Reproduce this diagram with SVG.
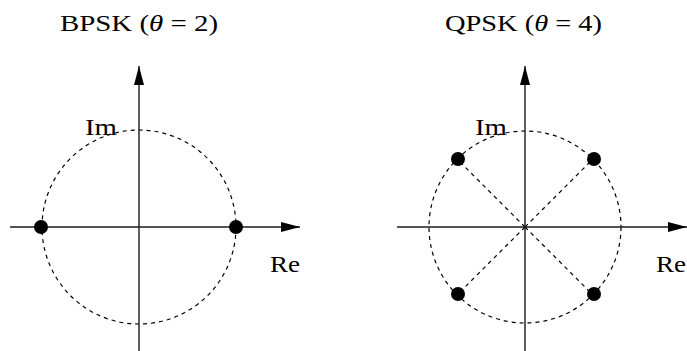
<svg xmlns="http://www.w3.org/2000/svg" width="687" height="351" viewBox="0 0 687 351">
<style>
.axis{stroke:#1a1a1a;stroke-width:1.4;fill:none}
.dash{stroke:#000;stroke-width:1.2;fill:none;stroke-dasharray:4 4}
.dot{fill:#000}
.lbl{font-family:"Liberation Serif","DejaVu Serif",serif;font-size:24px;fill:#000}
.it{font-style:italic}
</style>
<defs>
<marker id="ah" markerUnits="userSpaceOnUse" markerWidth="20" markerHeight="12" refX="19" refY="5" orient="auto">
<path d="M0,0 L19,5 L0,10 Z" fill="#000"/>
</marker>
</defs>
<g id="title-bpsk"><text class="lbl" x="60" y="31" textLength="158" lengthAdjust="spacingAndGlyphs">BPSK  (<tspan class="it">θ</tspan> = 2)</text></g>
<g id="title-qpsk"><text class="lbl" x="445" y="31" textLength="157" lengthAdjust="spacingAndGlyphs">QPSK  (<tspan class="it">θ</tspan> = 4)</text></g>
<g id="connectors">
<circle class="dash" cx="139" cy="227" r="97"/>
<line class="axis" x1="10" y1="227" x2="300" y2="227" marker-end="url(#ah)"/>
<line class="axis" x1="139" y1="352" x2="139" y2="66" marker-end="url(#ah)"/>
<circle class="dash" cx="525" cy="227" r="96"/>
<line class="dash" x1="525" y1="227" x2="457" y2="159"/>
<line class="dash" x1="525" y1="227" x2="593" y2="159"/>
<line class="dash" x1="525" y1="227" x2="457" y2="295"/>
<line class="dash" x1="525" y1="227" x2="593" y2="295"/>
<line class="axis" x1="397" y1="227" x2="687" y2="227" marker-end="url(#ah)"/>
<line class="axis" x1="525" y1="352" x2="525" y2="66" marker-end="url(#ah)"/>
</g>
<g id="bpsk-p0"><circle class="dot" cx="41" cy="227" r="7"/></g>
<g id="bpsk-p1"><circle class="dot" cx="236" cy="227" r="7"/></g>
<g id="qpsk-p0"><circle class="dot" cx="458" cy="159" r="7"/></g>
<g id="qpsk-p1"><circle class="dot" cx="594" cy="159" r="7"/></g>
<g id="qpsk-p2"><circle class="dot" cx="458" cy="294" r="7"/></g>
<g id="qpsk-p3"><circle class="dot" cx="594" cy="294" r="7"/></g>
<g id="labels">
<text class="lbl" x="85" y="135" textLength="32" lengthAdjust="spacingAndGlyphs">Im</text>
<text class="lbl" x="270" y="272" textLength="30" lengthAdjust="spacingAndGlyphs">Re</text>
<text class="lbl" x="475" y="135" textLength="32" lengthAdjust="spacingAndGlyphs">Im</text>
<text class="lbl" x="656" y="272" textLength="30" lengthAdjust="spacingAndGlyphs">Re</text>
</g>
</svg>
